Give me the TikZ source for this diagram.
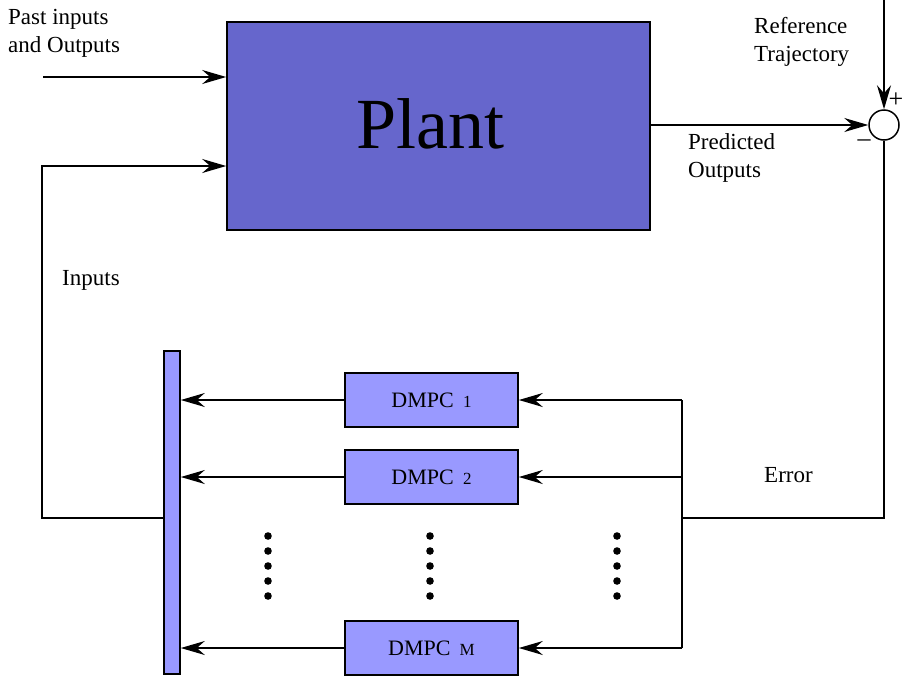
\documentclass[tikz,border=0pt]{standalone}
\usepackage{fontspec}
\setmainfont{Liberation Serif}
\usetikzlibrary{arrows.meta}
\definecolor{plantblue}{RGB}{102,102,204}
\definecolor{dmpcblue}{RGB}{153,153,255}

\begin{document}
\begin{tikzpicture}[x=1pt,y=-1pt]
	 \tikzstyle{block}=[rectangle,draw=black,line width=1.6pt,inner sep=0pt]
	 \tikzstyle{dmpc}=[block,fill=dmpcblue,minimum width=173pt,minimum height=54pt,font=\fontsize{22}{26}\selectfont]
	 \tikzstyle{txt}=[inner sep=0pt,align=left,font=\fontsize{23}{28}\selectfont]
	 \tikzstyle{edge} = [draw,line width=1.5pt,black]
	 \tikzstyle{arrow} = [edge,-{Stealth[length=24pt,width=14pt,inset=8pt]}]
	 \useasboundingbox (0,0) rectangle (904,675);
	 % blocks
	 \node[block,fill=plantblue,minimum width=423pt,minimum height=208pt] (plant) at (438.5,126) {};
	 \node[font=\fontsize{72}{84}\selectfont] (planttxt) at (430,124) {Plant};
	 \node[circle,draw=black,line width=1.5pt,minimum size=30pt,inner sep=0pt] (sum) at (884,125) {};
	 \node[dmpc] (d1) at (431.5,400) {DMPC\ \,{\fontsize{17}{18}\selectfont 1}};
	 \node[dmpc] (d2) at (431.5,477) {DMPC\ \,{\fontsize{17}{18}\selectfont 2}};
	 \node[dmpc] (dm) at (431.5,648) {DMPC\ \,{\fontsize{17}{18}\selectfont M}};
	 \node[block,fill=dmpcblue,minimum width=16pt,minimum height=323pt] (bar) at (172,512.5) {};
	 % labels
	 \node[txt,anchor=north west] (past) at (8,9) {Past inputs\\and Outputs};
	 \node[txt,anchor=north west] (reftxt) at (754,17) {Reference\\Trajectory};
	 \node[txt,anchor=north west] (predtxt) at (688,133) {Predicted\\Outputs};
	 \node[txt,anchor=base west] (intxt) at (62,285) {Inputs};
	 \node[txt,anchor=base west] (errtxt) at (764,482) {Error};
	 \node[txt,font=\fontsize{26}{28}\selectfont] (plus) at (896,100) {+};
	 \node[txt,font=\fontsize{26}{28}\selectfont] (minus) at (864,143) {--};
	 % coordinates
	 \coordinate (pin) at (43,77);
	 \coordinate (fb) at (42,518);
	 \coordinate (fbtop) at (42,166);
	 \coordinate (ref) at (884,0);
	 \coordinate (err) at (884,518);
	 \coordinate (split) at (682,518);
	 \coordinate (stop) at (682,400);
	 \coordinate (sbot) at (682,648);
	 % connectors
	 \draw[arrow] (pin) -- (pin -| plant.west);
	 \draw[arrow] (bar.west |- fb) -- (fb) -- (fbtop) -- (fbtop -| plant.west);
	 \draw[arrow] (plant.east |- sum) -- (sum.west);
	 \draw[arrow] (ref) -- (sum.north);
	 \draw[edge] (sum.south) -- (err) -- (split);
	 \draw[edge] (stop) -- (sbot);
	 \draw[arrow] (stop) -- (d1.east);
	 \draw[arrow] (split |- d2) -- (d2.east);
	 \draw[arrow] (sbot) -- (dm.east);
	 \draw[arrow] (d1.west) -- (d1.west -| bar.east);
	 \draw[arrow] (d2.west) -- (d2.west -| bar.east);
	 \draw[arrow] (dm.west) -- (dm.west -| bar.east);
	 % dots
	 \foreach \x in {268,430,617}
	   \foreach \y in {536,551,566,581,596}
	     \fill (\x,\y) circle (3.8pt);
\end{tikzpicture}
\end{document}
